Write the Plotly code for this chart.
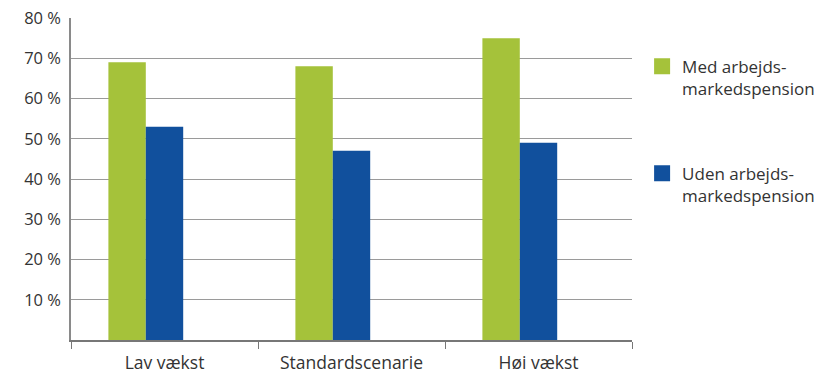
import plotly.graph_objects as go

categories = ["Lav vækst", "Standardscenarie", "Høj vækst"]
med_values = [69, 68, 75]
uden_values = [53, 47, 49]
series_names = ["Med arbejds-<br>markedspension", "Uden arbejds-<br>markedspension"]
y_ticks = [10, 20, 30, 40, 50, 60, 70, 80]
y_tick_labels = [f"{v} %" for v in y_ticks]

GREEN = "#A5C23A"
BLUE = "#11509D"
FONT = "Open Sans"
TXT = "#333333"

fig = go.Figure()
fig.add_trace(go.Bar(x=categories, y=med_values, marker=dict(color=GREEN, line=dict(width=0)),
                     width=0.2, offset=-0.3, showlegend=False, hoverinfo="y"))
fig.add_trace(go.Bar(x=categories, y=uden_values, marker=dict(color=BLUE, line=dict(width=0)),
                     width=0.2, offset=-0.1, showlegend=False, hoverinfo="y"))
# legend entries
for name, col, grp in [(series_names[0], GREEN, "a"), (series_names[1], BLUE, "b")]:
    fig.add_trace(go.Scatter(x=[None], y=[None], mode="markers", name=name, legendgroup=grp,
                             marker=dict(symbol="square", size=17, color=col)))

fig.update_layout(
    width=820, height=369,
    margin=dict(l=71, r=188, t=17.5, b=28.5, autoexpand=False),
    plot_bgcolor="white", paper_bgcolor="white",
    barmode="overlay",
    font=dict(family=FONT, size=15, color=TXT),
    xaxis=dict(type="category", tickson="boundaries", ticks="outside", ticklen=7, tickcolor="#777777",
               showline=True, linecolor="#777777", linewidth=1.5, showgrid=False, automargin=False,
               ticklabelstandoff=6,
               tickfont=dict(size=17.5, color=TXT), range=[-0.5, 2.5]),
    yaxis=dict(range=[0, 80], tickvals=y_ticks, ticktext=y_tick_labels, showgrid=True, automargin=False,
               gridcolor="#9a9a9a", gridwidth=1, showline=True, linecolor="#8a8a8a", linewidth=1.5,
               ticks="", ticklen=0, ticklabelstandoff=5, tickfont=dict(size=16.5, color=TXT), zeroline=False),
    legend=dict(x=1.018, xanchor="left", y=0.905, yanchor="top", valign="top",
                tracegroupgap=60, font=dict(size=17, color=TXT), bgcolor="rgba(0,0,0,0)"),
    showlegend=True,
)

fig.write_html("out.html")
